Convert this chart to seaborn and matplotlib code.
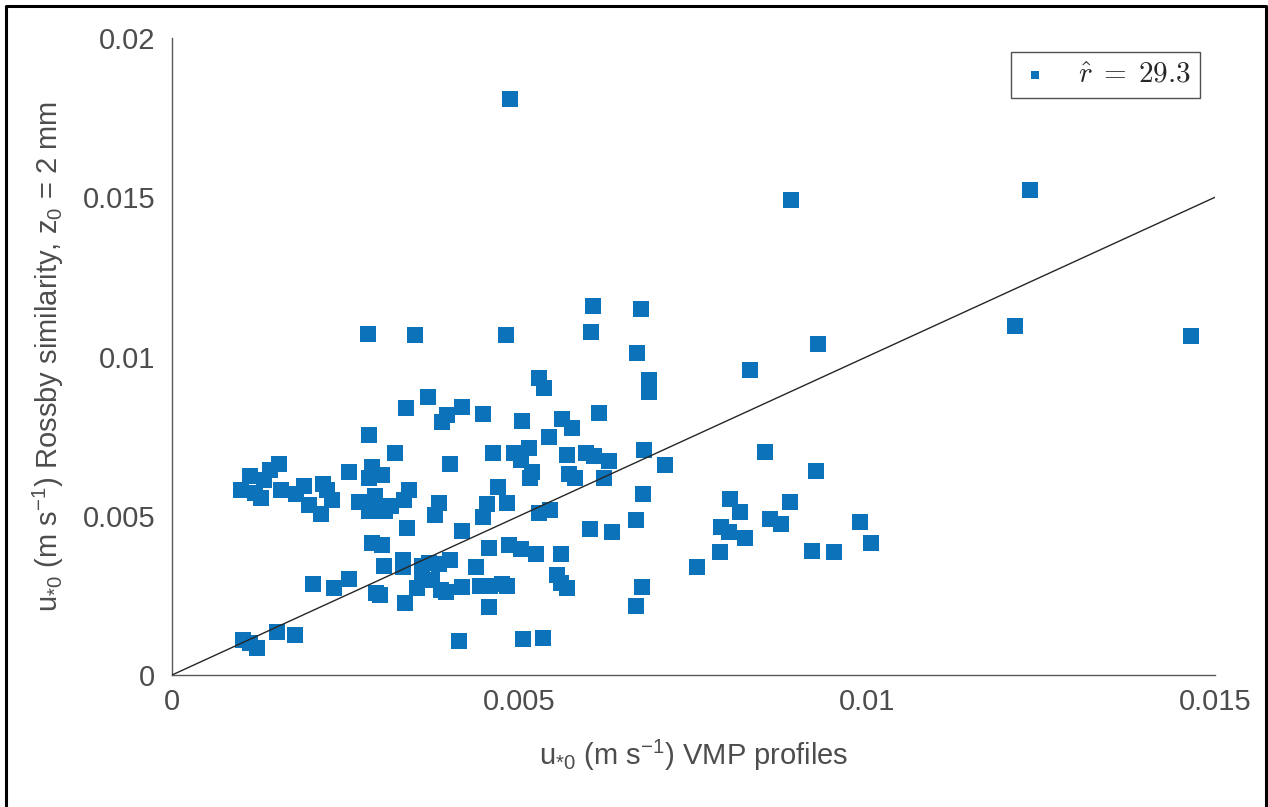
import matplotlib
matplotlib.use("Agg")
import matplotlib.pyplot as plt
import seaborn as sns
import pandas as pd
from matplotlib.lines import Line2D

# u*0 from VMP profiles (x) vs Rossby similarity with z0 = 2 mm (y)
u_vmp = [
    0.00486, 0.00890, 0.01234, 0.01212, 0.01466, 0.00606, 0.00675, 0.00282,
    0.00350, 0.00480, 0.00337, 0.00368, 0.00396, 0.00388, 0.00417, 0.00447,
    0.00283, 0.00603, 0.00669, 0.00929, 0.00831, 0.00528, 0.00535, 0.00686,
    0.00686, 0.00503, 0.00561, 0.00575, 0.00614, 0.00542, 0.00513, 0.00492,
    0.00502, 0.00568, 0.00595, 0.00607, 0.00629, 0.00679, 0.00709, 0.00518,
    0.00515, 0.00571, 0.00580, 0.00621, 0.00482, 0.00677, 0.00853, 0.00926,
    0.00528, 0.00544, 0.00667, 0.00601, 0.00633, 0.00803, 0.00817, 0.00889,
    0.00790, 0.00801, 0.00824, 0.00860, 0.00876, 0.00990, 0.01005, 0.00788,
    0.00920, 0.00952, 0.00755, 0.00485, 0.00502, 0.00524, 0.00559, 0.00554,
    0.00559, 0.00568, 0.00482, 0.00676, 0.00667, 0.00321, 0.00462, 0.00154,
    0.00141, 0.00112, 0.00132, 0.00255, 0.00288, 0.00283, 0.00302, 0.00400,
    0.00099, 0.00119, 0.00128, 0.00157, 0.00178, 0.00190, 0.00217, 0.00223,
    0.00230, 0.00197, 0.00214, 0.00269, 0.00292, 0.00283, 0.00306, 0.00315,
    0.00334, 0.00341, 0.00469, 0.00384, 0.00378, 0.00453, 0.00447, 0.00338,
    0.00417, 0.00288, 0.00302, 0.00456, 0.00305, 0.00332, 0.00332, 0.00360,
    0.00370, 0.00384, 0.00400, 0.00437, 0.00360, 0.00374, 0.00352, 0.00387,
    0.00394, 0.00417, 0.00443, 0.00457, 0.00475, 0.00456, 0.00203, 0.00233,
    0.00255, 0.00293, 0.00299, 0.00335, 0.00102, 0.00112, 0.00122, 0.00151,
    0.00177, 0.00413, 0.00505, 0.00534,
]
u_rossby = [
    0.01809, 0.01491, 0.01523, 0.01096, 0.01064, 0.01159, 0.01149, 0.01071,
    0.01068, 0.01068, 0.00838, 0.00873, 0.00816, 0.00794, 0.00841, 0.00820,
    0.00754, 0.01077, 0.01011, 0.01039, 0.00958, 0.00933, 0.00901, 0.00926,
    0.00889, 0.00798, 0.00804, 0.00776, 0.00823, 0.00747, 0.00713, 0.00697,
    0.00675, 0.00691, 0.00697, 0.00688, 0.00672, 0.00706, 0.00659, 0.00637,
    0.00619, 0.00631, 0.00619, 0.00619, 0.00540, 0.00568, 0.00700, 0.00641,
    0.00509, 0.00518, 0.00487, 0.00458, 0.00449, 0.00553, 0.00512, 0.00543,
    0.00465, 0.00449, 0.00430, 0.00490, 0.00474, 0.00480, 0.00414, 0.00386,
    0.00389, 0.00386, 0.00339, 0.00408, 0.00396, 0.00380, 0.00380, 0.00314,
    0.00289, 0.00273, 0.00279, 0.00276, 0.00217, 0.00697, 0.00697, 0.00663,
    0.00644, 0.00625, 0.00612, 0.00637, 0.00653, 0.00619, 0.00628, 0.00663,
    0.00581, 0.00571, 0.00556, 0.00581, 0.00568, 0.00593, 0.00600, 0.00581,
    0.00550, 0.00534, 0.00506, 0.00543, 0.00562, 0.00515, 0.00515, 0.00531,
    0.00550, 0.00581, 0.00590, 0.00540, 0.00502, 0.00537, 0.00496, 0.00462,
    0.00452, 0.00414, 0.00408, 0.00399, 0.00342, 0.00361, 0.00339, 0.00342,
    0.00352, 0.00349, 0.00361, 0.00339, 0.00314, 0.00298, 0.00273, 0.00267,
    0.00261, 0.00276, 0.00279, 0.00279, 0.00286, 0.00214, 0.00286, 0.00273,
    0.00301, 0.00258, 0.00251, 0.00226, 0.00110, 0.00101, 0.00085, 0.00135,
    0.00126, 0.00107, 0.00113, 0.00116,
]
r_hat_label = r"$\hat{r}\;=\;29.3$"
x_ticks = [0, 0.005, 0.01, 0.015]
x_ticklabels = ["0", "0.005", "0.01", "0.015"]
y_ticks = [0, 0.005, 0.01, 0.015, 0.02]
y_ticklabels = ["0", "0.005", "0.01", "0.015", "0.02"]

df = pd.DataFrame({"vmp": u_vmp, "rossby": u_rossby})

sns.set_style("white")
plt.rcParams["font.family"] = ["Liberation Sans", "DejaVu Sans"]
plt.rcParams["mathtext.fontset"] = "cm"

blue = "#0c72ba"
grey = "#4d4d4d"

fig = plt.figure(figsize=(12.68, 8.07), dpi=100)
ax = fig.add_axes([172 / 1268, 132 / 807, 1043 / 1268, 637 / 807])

sns.scatterplot(data=df, x="vmp", y="rossby", marker="s", s=117, color=blue,
                linewidth=0, ax=ax, label=r_hat_label, zorder=2)
# 1:1 line
ax.plot([0, 0.015], [0, 0.015], color="#262626", linewidth=1.0, zorder=3)

ax.set_xlim(0, 0.015)
ax.set_ylim(0, 0.02)
ax.set_xticks(x_ticks)
ax.set_xticklabels(x_ticklabels)
ax.set_yticks(y_ticks)
ax.set_yticklabels(y_ticklabels)

for side in ["top", "right"]:
    ax.spines[side].set_visible(False)
for side in ["left", "bottom"]:
    ax.spines[side].set_color("#5a5a5a")
    ax.spines[side].set_linewidth(1.0)

ax.tick_params(axis="both", direction="in", length=8, width=1.0,
               color="#5a5a5a", labelsize=21, labelcolor=grey)
ax.tick_params(axis="x", pad=9)
ax.tick_params(axis="y", pad=12)

ax.set_xlabel(r"u$\mathregular{_{*0}}$ (m s$\mathregular{^{-1}}$) VMP profiles",
              fontsize=21, color=grey, labelpad=16)
ax.set_ylabel(r"u$\mathregular{_{*0}}$ (m s$\mathregular{^{-1}}$) Rossby similarity, "
              r"z$\mathregular{_0}$ = 2 mm",
              fontsize=21, color=grey, labelpad=12)

leg = ax.legend(loc="upper right", bbox_to_anchor=(1028 / 1043, 623 / 637),
                borderaxespad=0, fontsize=21, markerscale=0.5, frameon=True,
                fancybox=False, handlelength=1.0, handletextpad=1.0,
                borderpad=0.3)
leg.get_frame().set_edgecolor("#262626")
leg.get_frame().set_linewidth(1.0)

# black frame around the figure (left, top, right)
fig.add_artist(Line2D([6 / 1268, 6 / 1268, 1266 / 1268, 1266 / 1268],
                      [0, 801 / 807, 801 / 807, 0],
                      transform=fig.transFigure, color="black", linewidth=2.2))

fig.savefig("out.png", dpi=100)
